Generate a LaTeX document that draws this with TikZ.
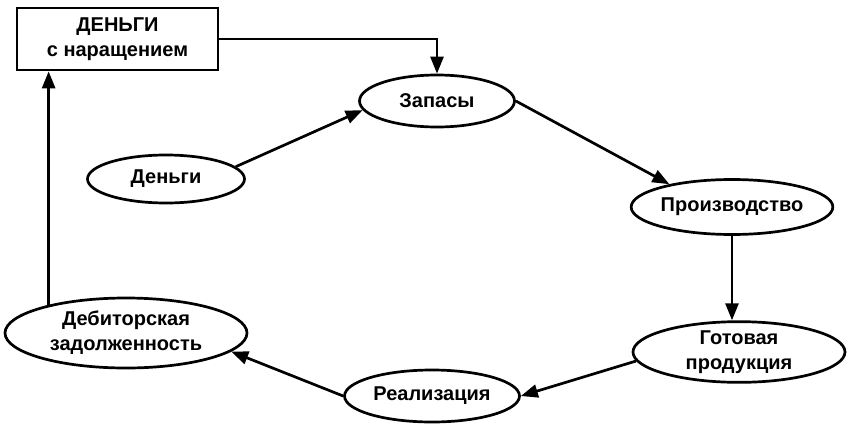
\documentclass[tikz,border=0pt]{standalone}
\usepackage{fontspec}
\setmainfont{Liberation Sans}
\usetikzlibrary{shapes.geometric,arrows.meta}

\begin{document}
\begin{tikzpicture}[x=1pt,y=-1pt,line width=2.7pt,
    >={Triangle[length=17pt,width=13pt]}]

      \useasboundingbox (0,0) rectangle (848,423);

      \begin{scope}[every node/.style={ellipse,draw,inner sep=0pt,align=center,
          font=\fontsize{20}{25}\selectfont\bfseries}]
        \node[rectangle,minimum width=201pt,minimum height=62pt] (1) at (117.5,39) {ДЕНЬГИ\\с наращением};
        \node[minimum width=157pt,minimum height=48pt] (2) at (166,179) {Деньги};
        \node[minimum width=155pt,minimum height=52pt] (3) at (437,101) {Запасы};
        \node[minimum width=199pt,minimum height=55pt] (4) at (732,207) {Производство};
        \node[minimum width=212pt,minimum height=59pt] (5) at (739,352) {Готовая\\продукция};
        \node[minimum width=175pt,minimum height=52pt] (6) at (432,396) {Реализация};
        \node[minimum width=242pt,minimum height=70pt] (7) at (126,333) {Дебиторская\\задолженность};
      \end{scope}

      \begin{scope}[every edge/.style={draw,->}]
        \draw[->] (1.east) -| (3);
        \path (2.10)    edge (3.187);
        \path (3.east)  edge (4.160);
        \path (4.south) edge (4.south |- 5.north);
        \path (5.185)   edge (6.east);
        \path (6.west)  edge (7.-10);
        \path (7.160)   edge (7.160 |- 1.south);
      \end{scope}

    \end{tikzpicture}
\end{document}
